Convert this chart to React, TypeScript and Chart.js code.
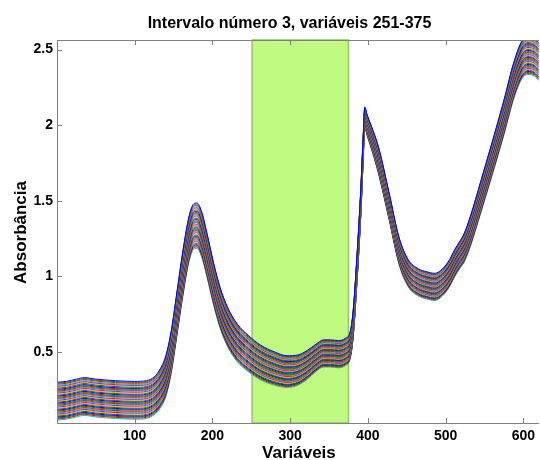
import { useEffect, useRef } from "react";
import { Chart, registerables } from "chart.js";

Chart.register(...registerables);

// Spectral variable index at each sampled position
const VARIABLES = [
  1, 12, 25, 35, 50, 75, 100, 115, 125, 133, 140, 147, 154, 162, 170, 176, 180, 186,
  193, 201, 210, 220, 232, 246, 262, 280, 296, 310, 322, 333, 343, 352, 362, 371,
  377, 381, 386, 391, 394, 396, 399, 407, 414, 427, 440, 452, 465, 476, 486, 496,
  505, 512, 518, 524, 532, 545, 560, 575, 588, 598, 606, 614, 620,
];

// Mean absorbance of the sample set at each position
const MEAN_ABS = [
  0.175, 0.18, 0.195, 0.205, 0.195, 0.185, 0.18, 0.185, 0.21, 0.26, 0.34, 0.5, 0.74, 1.02, 1.25, 1.33, 1.335, 1.28,
  1.14, 0.96, 0.79, 0.66, 0.56, 0.49, 0.43, 0.39, 0.37, 0.38, 0.415, 0.46, 0.49, 0.49, 0.485, 0.5,
  0.54, 0.68, 1.05, 1.5, 1.85, 2.05, 2.0, 1.88, 1.76, 1.47, 1.17, 1.02, 0.96, 0.94, 0.93, 0.96,
  1.02, 1.09, 1.14, 1.19, 1.3, 1.52, 1.78, 2.05, 2.3, 2.43, 2.46, 2.45, 2.42,
];

// Half width of the band covered by the samples
const HALF_SPREAD = [
  0.125, 0.125, 0.125, 0.125, 0.125, 0.125, 0.125, 0.125, 0.125, 0.13, 0.135, 0.14, 0.145, 0.15, 0.15, 0.15, 0.15, 0.15,
  0.145, 0.14, 0.135, 0.13, 0.125, 0.12, 0.115, 0.11, 0.105, 0.1, 0.095, 0.09, 0.09, 0.09, 0.09, 0.09,
  0.09, 0.09, 0.09, 0.09, 0.08, 0.07, 0.07, 0.08, 0.09, 0.09, 0.09, 0.09, 0.09, 0.09, 0.09, 0.09,
  0.09, 0.09, 0.09, 0.095, 0.1, 0.105, 0.11, 0.115, 0.12, 0.125, 0.125, 0.125, 0.125,
];

// Relative position of each sample inside the band (+1 top, -1 bottom)
const SAMPLE_LEVELS = [
  1.0, 0.95, 0.9, 0.84, 0.79, 0.74, 0.69, 0.63, 0.58, 0.53, 0.48, 0.43, 0.37, 0.32, 0.27,
  0.21, 0.16, 0.11, 0.05, 0.0, -0.05, -0.1, -0.16, -0.21, -0.26, -0.31, -0.37, -0.42,
  -0.47, -0.52, -0.58, -0.63, -0.68, -0.73, -0.79, -0.84, -0.89, -0.94, -1.0,
];

const X_TICKS = [100, 200, 300, 400, 500, 600];
const Y_TICKS = [0.5, 1, 1.5, 2, 2.5];
const INTERVAL = [251, 375];
const X_RANGE = [0, 620];
const Y_RANGE = [0.03, 2.563];

const TITLE = "Intervalo número 3, variáveis 251-375";
const X_LABEL = "Variáveis";
const Y_LABEL = "Absorbância";

const LINE_COLORS = ["#0000ff", "#008000", "#ff0000", "#00bfbf", "#bf00bf", "#bfbf00", "#404040"];
const FONT = '"Liberation Sans", Arial, sans-serif';
const AXIS_COLOR = "#808080";

const intervalPlugin = {
  id: "intervalBand",
  beforeDatasetsDraw(chart: any) {
    const { ctx, chartArea, scales } = chart;
    const x0 = scales.x.getPixelForValue(INTERVAL[0]);
    const x1 = scales.x.getPixelForValue(INTERVAL[1]);
    ctx.save();
    ctx.fillStyle = "rgb(192,250,128)";
    ctx.fillRect(x0, chartArea.top, x1 - x0, chartArea.bottom - chartArea.top);
    ctx.strokeStyle = "rgb(150,196,110)";
    ctx.lineWidth = 1.5;
    ctx.strokeRect(x0, chartArea.top, x1 - x0, chartArea.bottom - chartArea.top);
    ctx.restore();
  },
};

const framePlugin = {
  id: "frameAndLabels",
  afterDatasetsDraw(chart: any) {
    const { ctx, chartArea, scales } = chart;
    const { left, right, top, bottom } = chartArea;
    ctx.save();
    ctx.strokeStyle = AXIS_COLOR;
    ctx.lineWidth = 1;
    ctx.beginPath();
    ctx.moveTo(left + 0.5, top + 0.5);
    ctx.lineTo(right, top + 0.5);
    ctx.moveTo(left + 0.5, top);
    ctx.lineTo(left + 0.5, bottom + 0.5);
    ctx.lineTo(right, bottom + 0.5);
    const tick = 5;
    X_TICKS.forEach((v) => {
      const px = Math.round(scales.x.getPixelForValue(v)) + 0.5;
      ctx.moveTo(px, bottom);
      ctx.lineTo(px, bottom - tick);
      ctx.moveTo(px, top);
      ctx.lineTo(px, top + tick);
    });
    Y_TICKS.forEach((v) => {
      const py = Math.round(scales.y.getPixelForValue(v)) + 0.5;
      ctx.moveTo(left, py);
      ctx.lineTo(left + tick, py);
    });
    ctx.stroke();

    ctx.fillStyle = "#000";
    ctx.textAlign = "center";
    ctx.textBaseline = "alphabetic";
    ctx.font = `bold 16px ${FONT}`;
    ctx.fillText(TITLE, 289.5, 28);
    ctx.font = `bold 17px ${FONT}`;
    ctx.fillText(X_LABEL, (left + right) / 2 + 1, 458);
    ctx.translate(26, (top + bottom) / 2 + 1);
    ctx.rotate(-Math.PI / 2);
    ctx.fillText(Y_LABEL, 0, 0);
    ctx.restore();
  },
};

export default function App() {
  const canvasRef = useRef<HTMLCanvasElement | null>(null);

  useEffect(() => {
    const canvas = canvasRef.current;
    if (!canvas) return;

    const datasets = SAMPLE_LEVELS.map((level, i) => ({
      data: VARIABLES.map((x, k) => ({ x, y: MEAN_ABS[k] + level * HALF_SPREAD[k] })),
      borderColor: LINE_COLORS[i % LINE_COLORS.length],
      borderWidth: 1,
      pointRadius: 0,
      fill: false,
      cubicInterpolationMode: "monotone" as const,
    }));

    const tickFont = { family: FONT, size: 14, weight: "bold" as const };

    const chart = new Chart(canvas, {
      type: "line",
      data: { datasets },
      options: {
        animation: false,
        responsive: false,
        events: [],
        layout: { padding: { top: 40, right: 0, bottom: 0, left: 0 } },
        plugins: {
          legend: { display: false },
          tooltip: { enabled: false },
          title: { display: false },
        },
        scales: {
          x: {
            type: "linear",
            min: X_RANGE[0],
            max: X_RANGE[1],
            grid: { display: false, drawTicks: false },
            border: { display: false },
            ticks: {
              font: tickFont,
              color: "#000",
              padding: 5,
              maxRotation: 0,
              autoSkip: false,
              callback: (v: any) => String(v),
            },
            afterBuildTicks: (scale: any) => {
              scale.ticks = X_TICKS.map((value) => ({ value }));
            },
            afterFit: (scale: any) => {
              scale.height = 37;
            },
          },
          y: {
            type: "linear",
            min: Y_RANGE[0],
            max: Y_RANGE[1],
            grid: { display: false, drawTicks: false },
            border: { display: false },
            ticks: {
              font: tickFont,
              color: "#000",
              padding: 4,
              autoSkip: false,
              callback: (v: any) => String(v),
            },
            afterBuildTicks: (scale: any) => {
              scale.ticks = Y_TICKS.map((value) => ({ value }));
            },
            afterFit: (scale: any) => {
              scale.width = 57;
            },
          },
        },
      },
      plugins: [intervalPlugin, framePlugin],
    });

    return () => chart.destroy();
  }, []);

  return (
    <div style={{ position: "fixed", left: 0, top: 0, width: 540, height: 460, background: "#fff" }}>
      <canvas ref={canvasRef} width={540} height={460} style={{ display: "block" }} />
    </div>
  );
}
